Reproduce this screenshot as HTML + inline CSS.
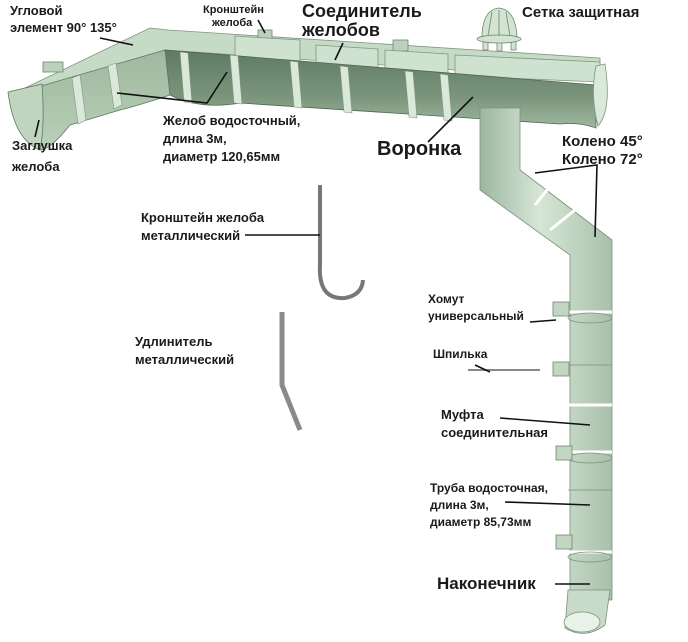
<!DOCTYPE html>
<html><head><meta charset="utf-8"><style>
html,body{margin:0;padding:0;background:#fff;}
svg{display:block}
text{font-family:"Liberation Sans","DejaVu Sans",sans-serif;font-weight:bold;fill:#1a1a1a}
</style></head><body>
<svg width="688" height="642" viewBox="0 0 688 642" xmlns="http://www.w3.org/2000/svg">
<defs>
<linearGradient id="pipe" x1="0" x2="1" y1="0" y2="0">
<stop offset="0" stop-color="#9db69f"/><stop offset="0.45" stop-color="#d6e6d6"/><stop offset="1" stop-color="#a9c0aa"/>
</linearGradient>
<linearGradient id="gut" x1="0" x2="0" y1="0" y2="1">
<stop offset="0" stop-color="#5f7a63"/><stop offset="0.6" stop-color="#7a957c"/><stop offset="1" stop-color="#9fb8a0"/>
</linearGradient>
<linearGradient id="gutL" x1="0" x2="0" y1="0" y2="1">
<stop offset="0" stop-color="#9fb89f"/><stop offset="1" stop-color="#b9cfb9"/>
</linearGradient>
</defs>
<!-- back walls (light) -->
<polygon points="25,88 150,28 168,30 600,58 600,80 165,50 40,100" fill="#c6dbc6" stroke="#7f967f" stroke-width="0.8"/>
<g fill="#bcd0bc" stroke="#6f876f" stroke-width="0.8">
<rect x="43" y="62" width="20" height="10"/><rect x="258" y="30" width="14" height="11"/><rect x="393" y="40" width="15" height="11"/>
</g>
<g fill="#cfe1cf" stroke="#7f967f" stroke-width="0.8">
<polygon points="235,36 300,40 300,62 235,58"/>
<polygon points="316,45 378,49 378,70 316,66"/>
<polygon points="385,50 448,54 448,74 385,70"/>
<polygon points="455,55 600,62 600,82 455,76"/>
</g>
<!-- main gutter front (dark) -->
<path d="M165,50 L596,85 L596,128 Q580,122 560,124 L240,103 Q200,110 170,95 Z" fill="url(#gut)" stroke="#4f6652" stroke-width="0.8"/>
<!-- left segment front -->
<path d="M10,95 L165,50 L170,95 Q140,105 120,110 L70,125 Q50,150 40,150 Q20,140 10,95 Z" fill="url(#gutL)" stroke="#5f765f" stroke-width="0.8"/>
<g fill="#d9e8d9" stroke="#7f967f" stroke-width="0.6">
<path d="M72,78 l8,-3 l6,45 l-8,4 z"/><path d="M108,66 l8,-3 l6,42 l-8,4 z"/>
<path d="M180,52 l8,1 l4,50 l-8,-1 z"/><path d="M230,55 l8,1 l4,48 l-8,-1 z"/>
<path d="M290,61 l8,1 l4,46 l-8,-1 z"/><path d="M340,66 l8,1 l4,46 l-8,-1 z"/>
<path d="M405,71 l8,1 l4,46 l-8,-1 z"/><path d="M440,74 l8,1 l4,46 l-8,-1 z"/>
</g>
<path d="M8,92 L42,84 Q45,125 40,150 Q14,140 8,92 Z" fill="#c0d4c0" stroke="#5f765f" stroke-width="0.8"/>
<path d="M596,66 Q590,95 598,126 Q612,110 605,64 Z" fill="#dbe9db" stroke="#7f967f" stroke-width="0.8"/>
<!-- funnel net -->
<g stroke="#6f876f" stroke-width="0.8" fill="#d3e4d3">
<path d="M482,38 Q482,10 499,8 Q516,10 517,38 Z"/>
<rect x="483" y="40" width="5" height="10"/><rect x="497" y="41" width="5" height="10"/><rect x="511" y="40" width="5" height="10"/>
<ellipse cx="499" cy="39" rx="22" ry="4"/>
</g>
<g stroke="#7f967f" stroke-width="1"><line x1="488" y1="36" x2="492" y2="12"/><line x1="499" y1="36" x2="499" y2="10"/><line x1="510" y1="36" x2="506" y2="12"/></g>
<!-- downpipe -->
<path d="M480,108 L520,108 L520,170 L612,240 L612,600 L570,600 L570,255 L480,190 Z" fill="url(#pipe)" stroke="#7b917c" stroke-width="0.8"/>
<path d="M568,590 L610,590 L605,625 Q585,640 565,628 Z" fill="#c8dbc8" stroke="#7b917c" stroke-width="0.8"/>
<ellipse cx="582" cy="622" rx="18" ry="10" fill="#e8f2e8" stroke="#7b917c" stroke-width="0.8"/>
<g stroke="#fff" stroke-width="3"><line x1="535" y1="205" x2="555" y2="180"/><line x1="550" y1="230" x2="575" y2="210"/>
<line x1="568" y1="312" x2="612" y2="312"/><line x1="568" y1="452" x2="612" y2="452"/><line x1="568" y1="552" x2="612" y2="552"/><line x1="568" y1="405" x2="612" y2="405"/></g>
<g stroke="#7b917c" stroke-width="0.8" fill="none"><ellipse cx="590" cy="318" rx="22" ry="5"/><ellipse cx="590" cy="458" rx="22" ry="5"/><ellipse cx="590" cy="557" rx="22" ry="5"/><line x1="568" y1="365" x2="612" y2="365"/><line x1="568" y1="490" x2="612" y2="490"/></g>
<g fill="#c2d6c2" stroke="#6f876f" stroke-width="0.8">
<rect x="553" y="302" width="16" height="14"/><rect x="553" y="362" width="16" height="14"/><rect x="556" y="446" width="16" height="14"/><rect x="556" y="535" width="16" height="14"/>
</g>
<line x1="468" y1="370" x2="540" y2="370" stroke="#888" stroke-width="2"/>
<path d="M320,185 L320,265 Q318,300 345,298 Q362,295 363,280" fill="none" stroke="#777" stroke-width="4"/>
<path d="M282,312 L282,385 L300,430" fill="none" stroke="#8a8a8a" stroke-width="5"/>
<g stroke="#111" stroke-width="1.6" fill="none">
<line x1="100" y1="38" x2="133" y2="45"/>
<line x1="258" y1="20" x2="265" y2="33"/>
<line x1="343" y1="43" x2="335" y2="60"/>
<path d="M117,93 L207,103 L227,72"/>
<line x1="39" y1="120" x2="35" y2="137"/>
<line x1="428" y1="142" x2="473" y2="97"/>
<path d="M535,173 L597,165 L595,237"/>
<line x1="245" y1="235" x2="320" y2="235"/>
<line x1="530" y1="322" x2="556" y2="320"/>
<line x1="475" y1="365" x2="490" y2="372"/>
<line x1="500" y1="418" x2="590" y2="425"/>
<line x1="505" y1="502" x2="590" y2="505"/>
<line x1="555" y1="584" x2="590" y2="584"/>
</g>
<text x="10" y="15" font-size="13">Угловой</text>
<text x="10" y="32" font-size="13">элемент 90°  135°</text>
<text x="203" y="13" font-size="11">Кронштейн</text>
<text x="212" y="26" font-size="11">желоба</text>
<text x="302" y="17" font-size="18">Соединитель</text>
<text x="302" y="36" font-size="18">желобов</text>
<text x="522" y="17" font-size="15">Сетка защитная</text>
<text x="163" y="125" font-size="13">Желоб водосточный,</text>
<text x="163" y="143" font-size="13">длина 3м,</text>
<text x="163" y="161" font-size="13">диаметр 120,65мм</text>
<text x="12" y="150" font-size="13">Заглушка</text>
<text x="12" y="171" font-size="13">желоба</text>
<text x="377" y="155" font-size="20">Воронка</text>
<text x="562" y="146" font-size="15">Колено 45°</text>
<text x="562" y="164" font-size="15">Колено 72°</text>
<text x="141" y="222" font-size="13">Кронштейн  желоба</text>
<text x="141" y="240" font-size="13">металлический</text>
<text x="135" y="346" font-size="13">Удлинитель</text>
<text x="135" y="364" font-size="13">металлический</text>
<text x="428" y="303" font-size="12">Хомут</text>
<text x="428" y="320" font-size="12">универсальный</text>
<text x="433" y="358" font-size="12">Шпилька</text>
<text x="441" y="419" font-size="13">Муфта</text>
<text x="441" y="437" font-size="13">соединительная</text>
<text x="430" y="492" font-size="12">Труба водосточная,</text>
<text x="430" y="509" font-size="12">длина 3м,</text>
<text x="430" y="526" font-size="12">диаметр 85,73мм</text>
<text x="437" y="589" font-size="17">Наконечник</text>
</svg>
</body></html>
